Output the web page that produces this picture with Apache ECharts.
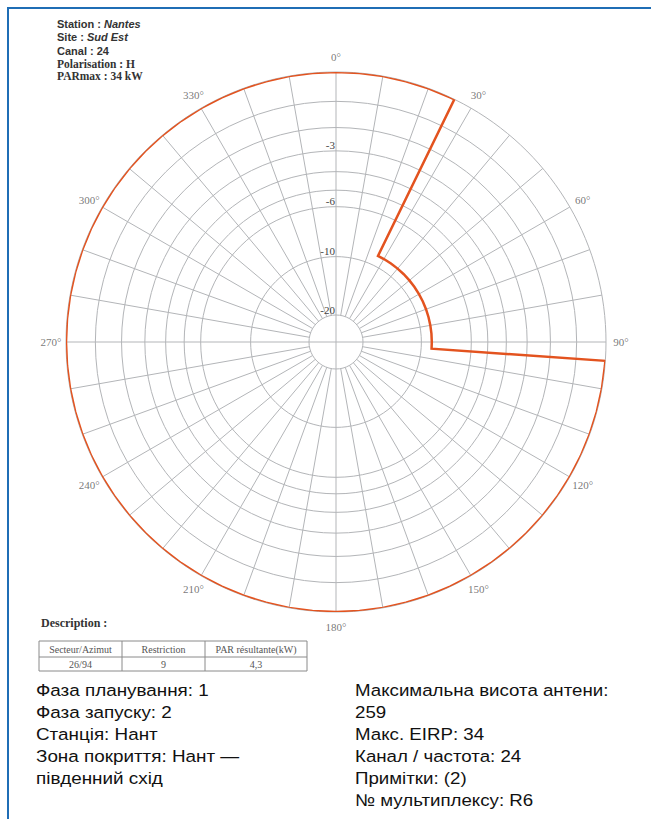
<!DOCTYPE html>
<html><head><meta charset="utf-8">
<script src="https://cdn.jsdelivr.net/npm/echarts@6/dist/echarts.min.js"></script>
<style>html,body{margin:0;padding:0;background:#fff}#c{width:651px;height:819px}</style>
</head><body><div id="c"></div>
<script>
// ---- data ----
const ringDb = [0, -1, -2, -3, -4, -5, -6, -10, -20];
const labelDb = [-3, -6, -10, -20];
const angleLabels = [0, 30, 60, 90, 120, 150, 180, 210, 240, 270, 300, 330];
const patternAzimuth = [0,5,10,15,20,25,26,26,30,35,40,45,50,55,60,65,70,75,80,85,90,94,94,95,100,105,110,115,120,125,130,135,140,145,150,155,160,165,170,175,180,185,190,195,200,205,210,215,220,225,230,235,240,245,250,255,260,265,270,275,280,285,290,295,300,305,310,315,320,325,330,335,340,345,350,355,360];
const patternDb = [0,0,0,0,0,0,0,-9,-9,-9,-9,-9,-9,-9,-9,-9,-9,-9,-9,-9,-9,-9,0,0,0,0,0,0,0,0,0,0,0,0,0,0,0,0,0,0,0,0,0,0,0,0,0,0,0,0,0,0,0,0,0,0,0,0,0,0,0,0,0,0,0,0,0,0,0,0,0,0,0,0,0,0,0];
const stationLabel = 'Station : '; const stationName = 'Nantes';
const siteLabel = 'Site : '; const siteName = 'Sud Est';
const canalLine = 'Canal : 24';
const polarLine = 'Polarisation : H';
const parLine = 'PARmax : 34 kW';
const descTitle = 'Description :';
const tableHeader = ['Secteur/Azimut', 'Restriction', 'PAR résultante(kW)'];
const tableRow = ['26/94', '9', '4,3'];
const infoLeft = ['Фаза планування: 1', 'Фаза запуску: 2', 'Станція: Нант', 'Зона покриття: Нант —', 'південний схід'];
const infoRight = ['Максимальна висота антени:', '259', 'Макс. EIRP: 34', 'Канал / частота: 24', 'Примітки: (2)', '№ мультиплексу: R6'];

// ---- helpers ----
const toField = db => Math.pow(10, db / 20);
const CX = 336, CY = 342, R = 270;
const SERIF = 'Liberation Serif', SANS = 'Liberation Sans';
const gridColor = '#b3b5b8';

const chart = echarts.init(document.getElementById('c'), null, {renderer: 'svg'});

const hiddenAngle = (idx, extra) => Object.assign({
  polarIndex: idx, type: 'value', min: 0, max: 360, startAngle: 90, clockwise: true,
  axisLine: {show: false}, axisTick: {show: false}, axisLabel: {show: false}, splitLine: {show: false}
}, extra || {});
const hiddenRadius = idx => ({polarIndex: idx, type: 'value', min: 0, max: 1, show: false,
  axisLine: {show: false}, axisTick: {show: false}, axisLabel: {show: false}, splitLine: {show: false}});

const graphics = [];
// frame
graphics.push({type: 'line', shape: {x1: 7, y1: 8, x2: 651, y2: 8}, style: {stroke: '#1f6db5', lineWidth: 2}});
graphics.push({type: 'line', shape: {x1: 8, y1: 7, x2: 8, y2: 819}, style: {stroke: '#1f6db5', lineWidth: 2}});
// header block
const hdr = [
  {text: '{a|' + stationLabel + '}{b|' + stationName + '}', y: 24},
  {text: '{a|' + siteLabel + '}{b|' + siteName + '}', y: 37},
  {text: '{a|' + canalLine + '}', y: 50.5},
  {text: '{c|' + polarLine + '}', y: 63.5},
  {text: '{c|' + parLine + '}', y: 76}
];
hdr.forEach(h => graphics.push({type: 'text', x: 57, y: h.y, style: {
  text: h.text, textVerticalAlign: 'middle', verticalAlign: 'middle',
  rich: {
    a: {fontFamily: SANS, fontWeight: 'bold', fontSize: 11, fill: '#333'},
    b: {fontFamily: SANS, fontWeight: 'bold', fontStyle: 'italic', fontSize: 11, fill: '#333'},
    c: {fontFamily: SERIF, fontWeight: 'bold', fontSize: 11.5, fill: '#333'}
  }}}));
// description + table
graphics.push({type: 'text', x: 41, y: 623, style: {text: descTitle, fontFamily: SERIF, fontWeight: 'bold', fontSize: 12,
  fill: '#333', textVerticalAlign: 'middle', verticalAlign: 'middle'}});
const colX = [39, 122, 205, 307];
const rowY = [641, 657, 671];
graphics.push({type: 'rect', shape: {x: colX[0], y: rowY[0], width: colX[3] - colX[0], height: rowY[2] - rowY[0]},
  style: {fill: 'none', stroke: '#8a8a8a', lineWidth: 1}});
graphics.push({type: 'line', shape: {x1: colX[0], y1: rowY[1], x2: colX[3], y2: rowY[1]}, style: {stroke: '#8a8a8a', lineWidth: 1}});
[1, 2].forEach(i => graphics.push({type: 'line', shape: {x1: colX[i], y1: rowY[0], x2: colX[i], y2: rowY[2]}, style: {stroke: '#8a8a8a', lineWidth: 1}}));
[tableHeader, tableRow].forEach((row, r) => row.forEach((t, i) => graphics.push({type: 'text',
  x: (colX[i] + colX[i + 1]) / 2, y: (rowY[r] + rowY[r + 1]) / 2 + 0.5,
  style: {text: t, fontFamily: SERIF, fontSize: 10, fill: '#555', textAlign: 'center', align: 'center',
    textVerticalAlign: 'middle', verticalAlign: 'middle'}})));
// info columns
infoLeft.forEach((t, i) => graphics.push({type: 'text', x: 36, y: 690 + i * 22, scaleX: 1.11, style: {text: t, fontFamily: SANS, fontSize: 17,
  fill: '#111', textVerticalAlign: 'middle', verticalAlign: 'middle'}}));
infoRight.forEach((t, i) => graphics.push({type: 'text', x: 355, y: 690 + i * 22, scaleX: 1.1, style: {text: t, fontFamily: SANS, fontSize: 17,
  fill: '#111', textVerticalAlign: 'middle', verticalAlign: 'middle'}}));

const option = {
  animation: false,
  backgroundColor: '#fff',
  polar: [
    {center: [CX, CY], radius: [0, R]},
    {center: [CX, CY], radius: [R * toField(-20), R]},
    {center: [CX, CY], radius: [0, R * toField(-20)]},
    {center: [CX, CY], radius: [0, 285]}
  ],
  angleAxis: [
    hiddenAngle(0),
    hiddenAngle(1, {interval: 10, splitLine: {show: true, lineStyle: {color: gridColor, width: 1}}}),
    hiddenAngle(2, {interval: 90, splitLine: {show: true, lineStyle: {color: gridColor, width: 1}}}),
    hiddenAngle(3)
  ],
  radiusAxis: [
    {polarIndex: 0, type: 'value', min: 0, max: 1, z: 5,
      axisLine: {show: false},
      axisTick: {show: false, customValues: ringDb.map(toField)},
      splitLine: {show: true, lineStyle: {color: gridColor, width: 1}},
      axisLabel: {show: true, customValues: labelDb.map(toField), margin: 1,
        formatter: v => String(Math.round(20 * Math.log10(v))),
        fontFamily: SERIF, fontSize: 11, color: '#444', verticalAlign: 'bottom'}},
    hiddenRadius(1), hiddenRadius(2), hiddenRadius(3)
  ],
  series: [
    {type: 'line', coordinateSystem: 'polar', polarIndex: 0, symbol: 'none', clip: false, z: 10,
      lineStyle: {color: '#e3531f', width: 2.5, join: 'miter'},
      data: patternAzimuth.map((a, i) => [toField(patternDb[i]), a])},
    {type: 'scatter', coordinateSystem: 'polar', polarIndex: 3, symbolSize: 0, clip: false, silent: true,
      label: {show: true, position: 'inside', formatter: p => p.value[1] + '°',
        fontFamily: SERIF, fontSize: 11, color: '#555'},
      data: angleLabels.map(a => [1, a])}
  ],
  graphic: graphics
};
chart.setOption(option);
</script></body></html>
